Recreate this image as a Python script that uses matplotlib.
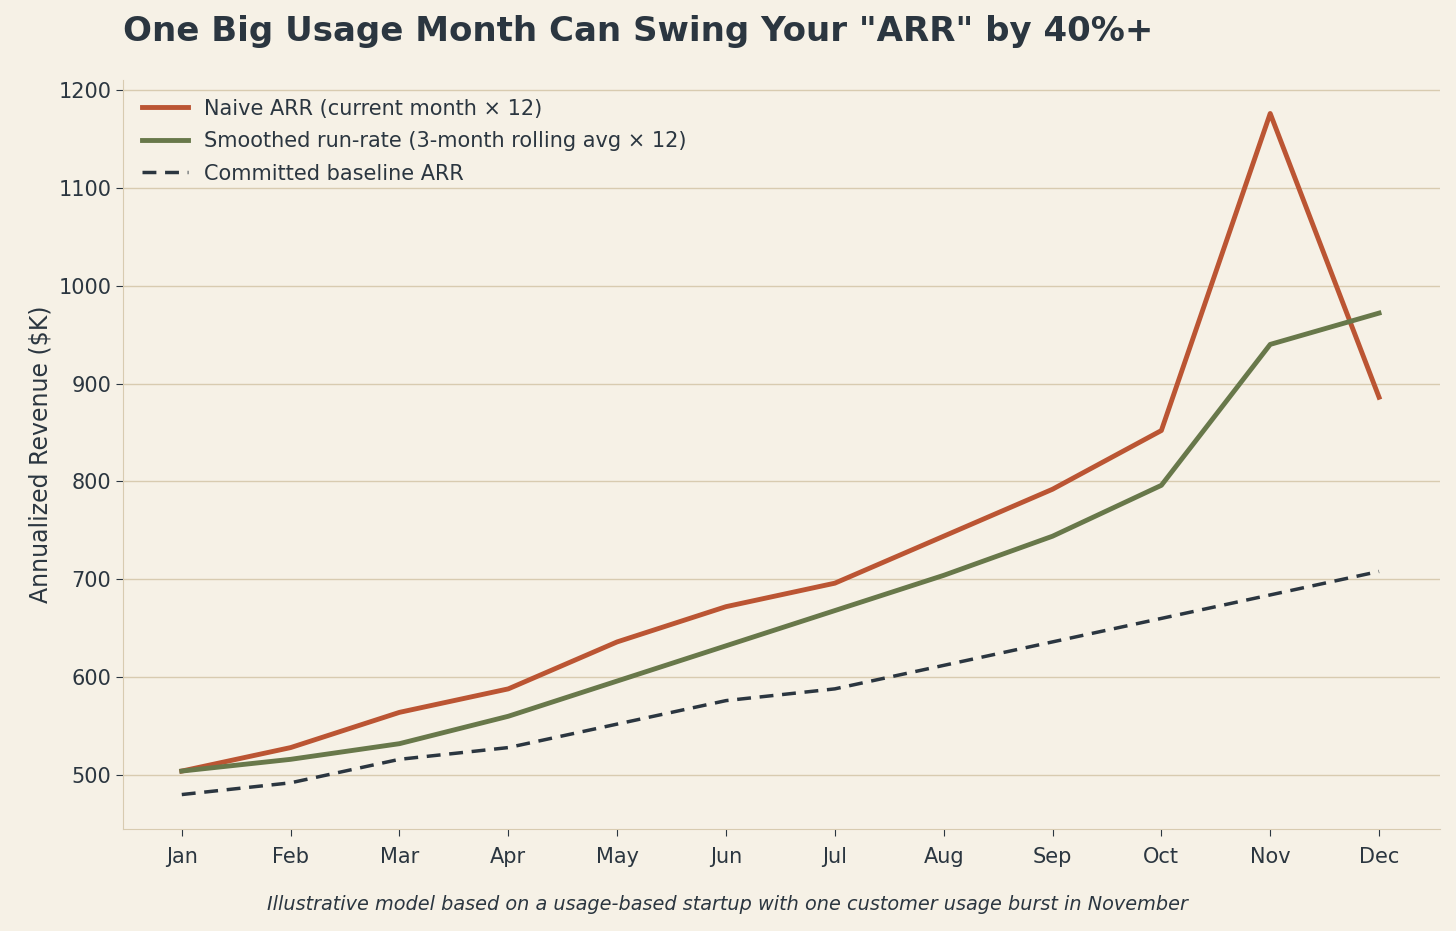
import matplotlib
matplotlib.use("Agg")
import matplotlib.pyplot as plt

months = ["Jan","Feb","Mar","Apr","May","Jun","Jul","Aug","Sep","Oct","Nov","Dec"]
naive = [504, 528, 564, 588, 636, 672, 696, 744, 792, 852, 1176, 886]
smoothed = [504, 516, 532, 560, 596, 632, 668, 704, 744, 796, 940, 972]
baseline = [480, 492, 516, 528, 552, 576, 588, 612, 636, 660, 684, 708]

bg = "#f6f1e6"
dark = "#2b3640"
fig = plt.figure(figsize=(14.56, 9.31), dpi=100, facecolor=bg)
ax = fig.add_axes([123/1456, 1-829/931, (1440-123)/1456, (829-80)/931], facecolor=bg)
x = list(range(len(months)))
ax.plot(x, naive, color="#bb5533", lw=3.5, label="Naive ARR (current month × 12)")
ax.plot(x, smoothed, color="#68784a", lw=3.5, label="Smoothed run-rate (3-month rolling avg × 12)")
ax.plot(x, baseline, color=dark, lw=2.5, ls=(0, (4, 2.5)), label="Committed baseline ARR")
ax.set_xlim(-0.54, 11.56)
ax.set_ylim(444.8, 1210.2)
ax.set_yticks([500,600,700,800,900,1000,1100,1200])
ax.set_xticks(x)
ax.set_xticklabels(months)
ax.grid(axis="y", color="#d8cbb0", lw=1)
ax.set_axisbelow(True)
for s in ["top","right"]:
    ax.spines[s].set_visible(False)
for s in ["left","bottom"]:
    ax.spines[s].set_color("#d8cbb0")
ax.tick_params(colors=dark, labelsize=15, length=5)
ax.tick_params(axis="x", pad=8)
for t in ax.get_xticklabels()+ax.get_yticklabels():
    t.set_color(dark)
ax.set_ylabel("Annualized Revenue ($K)", fontsize=17, color=dark)
leg = ax.legend(loc="upper left", frameon=False, fontsize=15, labelcolor=dark,
                handlelength=2.2, labelspacing=0.6)
fig.text(123/1456, 1-32/931, 'One Big Usage Month Can Swing Your "ARR" by 40%+', fontsize=24.5,
         fontweight="bold", color=dark, ha="left", va="center")
fig.text(727/1456, 1-904/931, "Illustrative model based on a usage-based startup with one customer usage burst in November",
         fontsize=13.9, style="italic", color=dark, ha="center", va="center")
fig.savefig("out.png", dpi=100, facecolor=bg)
